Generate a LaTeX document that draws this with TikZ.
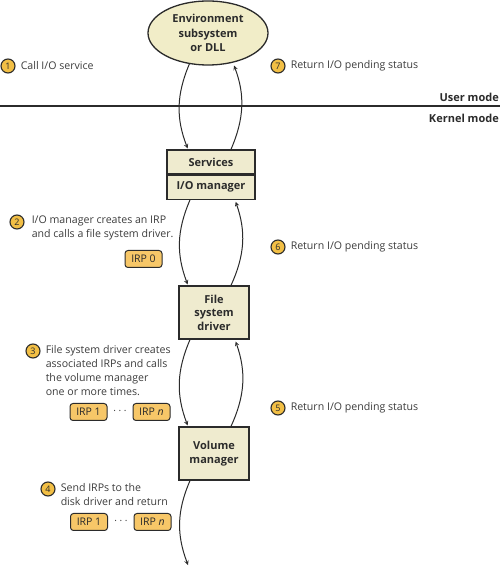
\documentclass[tikz,border=0pt]{standalone}
\usepackage{fontspec}
\setmainfont{Open Sans}
\usetikzlibrary{shapes.geometric, arrows, positioning}
\definecolor{boxfill}{HTML}{EFEBCF}
\definecolor{envfill}{HTML}{F1EDC8}
\definecolor{irpfill}{HTML}{F7C768}
\definecolor{numfill}{HTML}{F2BF45}
\definecolor{edge}{HTML}{2B2B2B}
\definecolor{txt}{HTML}{3C3C3C}
\tikzstyle{env} = [ellipse, minimum width=120pt, minimum height=64pt, inner sep=0pt, align=center, draw=edge, line width=1.3pt, fill=envfill, font=\fontsize{11}{14.5}\selectfont\bfseries, text=edge]
\tikzstyle{layer} = [rectangle, minimum width=70pt, minimum height=53pt, inner sep=0pt, align=center, draw=edge, line width=1.3pt, fill=boxfill, font=\fontsize{11}{13.5}\selectfont\bfseries, text=edge]
\tikzstyle{part} = [rectangle, minimum width=88pt, minimum height=24pt, inner sep=0pt, draw=edge, line width=1.3pt, fill=boxfill, font=\fontsize{11}{12}\selectfont\bfseries, text=edge]
\tikzstyle{irp} = [rectangle, rounded corners=3pt, minimum width=37pt, minimum height=17pt, inner sep=1pt, draw=edge, line width=1pt, fill=irpfill, text=edge, font=\fontsize{10.5}{12}\selectfont]
\tikzstyle{num} = [circle, minimum size=14pt, inner sep=0pt, draw=edge, line width=1.1pt, fill=numfill, font=\fontsize{9}{10}\selectfont, text=edge]
\tikzstyle{note} = [align=left, inner sep=0pt, text=txt, font=\fontsize{10.6}{14}\selectfont]
\tikzstyle{mode} = [inner sep=0pt, anchor=east, text=edge, font=\fontsize{11}{12}\selectfont\bfseries]
\tikzstyle{arrow} = [line width=1pt, ->, >=stealth, draw=edge]

\begin{document}
\begin{tikzpicture}[x=1pt, y=1pt]
\useasboundingbox (0,0) rectangle (500,566);
\node (env) [env] at (208,533) {Environment\\subsystem\\or DLL};
\node (svc) [part] at (211,404) {Services};
\node (iom) [part, below=0pt of svc] {I/O manager};
\node (fsd) [layer] at (214,253.5) {File\\system\\driver};
\node (vol) [layer] at (214,112.5) {Volume\\manager};

% user / kernel boundary
\coordinate (ml) at (0,460);
\coordinate (mr) at (500,460);
\draw [line width=2.5pt, edge] (ml) -- (mr);
\node (um) [mode] at (499,469) {User mode};
\node (km) [mode] at (499,448) {Kernel mode};

% numbered steps
\node (n1) [num] at (8,500) {1};
\node (t1) [note, right=5pt of n1] {Call I/O service};
\node (n7) [num] at (278,500) {7};
\node (t7) [note, right=5pt of n7] {Return I/O pending status};
\node (n2) [num] at (17,344) {2};
\node (t2) [note, anchor=north west] at ([xshift=7pt,yshift=6pt]n2.east) {I/O manager creates an IRP\\and calls a file system driver.};
\node (irp0) [irp] at (143.5,307) {IRP 0};
\node (n6) [num] at (278,319) {6};
\node (t6) [note, right=5pt of n6] {Return I/O pending status};
\node (n3) [num] at (33,215) {3};
\node (t3) [note, anchor=north west] at ([xshift=5pt,yshift=6pt]n3.east) {File system driver creates\\associated IRPs and calls\\the volume manager\\one or more times.};
\node (irp1a) [irp] at (88.5,154) {IRP 1};
\node (irpna) [irp] at (151.5,154) {IRP \textit{n}};
\node (dotsa) [text=txt] at (120,154) {· · ·};
\node (n5) [num] at (278,158) {5};
\node (t5) [note, right=5pt of n5] {Return I/O pending status};
\node (n4) [num] at (48,77) {4};
\node (t4) [note, anchor=north west] at ([xshift=5pt,yshift=6pt]n4.east) {Send IRPs to the\\disk driver and return};
\node (irp1b) [irp] at (89,44) {IRP 1};
\node (irpnb) [irp] at (152.5,44) {IRP \textit{n}};
\node (dotsb) [text=txt] at (121,44) {· · ·};
\coordinate (disk) at (188,1);

% calls down, status back up
\draw [arrow, shorten >=1pt] (env.-121) to[bend right=22] ([xshift=-23pt]svc.north);
\draw [arrow, shorten >=3pt] ([xshift=20pt]svc.north) to[bend right=22] (env.-50);
\draw [arrow, shorten >=1pt] ([xshift=-21pt]iom.south) to[bend right=22] ([xshift=-26pt]fsd.north);
\draw [arrow, shorten >=2pt] ([xshift=17pt]fsd.north) to[bend right=22] ([xshift=24pt]iom.south);
\draw [arrow, shorten >=1pt] ([xshift=-24pt]fsd.south) to[bend right=22] ([xshift=-26pt]vol.north);
\draw [arrow, shorten >=2pt] ([xshift=17pt]vol.north) to[bend right=22] ([xshift=21pt]fsd.south);
\draw [arrow] ([xshift=-24pt]vol.south) to[bend right=22] (disk);
\end{tikzpicture}
\end{document}
